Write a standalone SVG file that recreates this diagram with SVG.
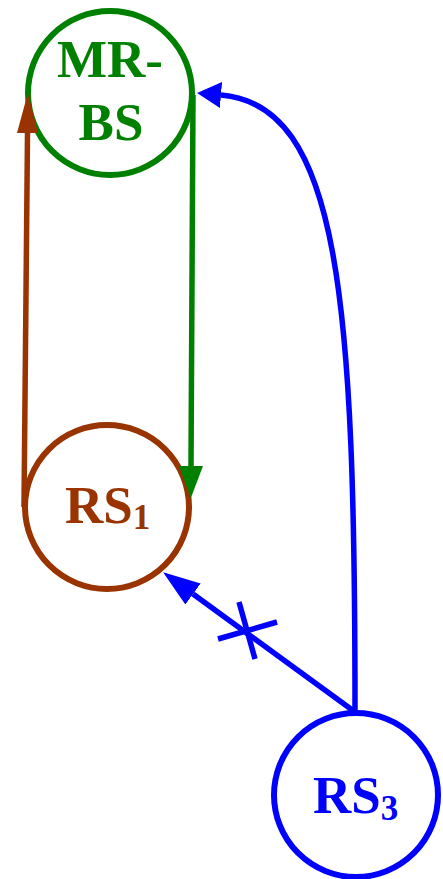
<svg xmlns="http://www.w3.org/2000/svg" width="443" height="879" viewBox="0 0 443 879">
<style>
.node{fill:#fff;stroke-width:6}
.lbl{font-family:"Liberation Serif","Times New Roman",serif;font-weight:bold;font-size:53px}
.edge{fill:none;stroke-width:5.5}
.sub{font-size:35px}
</style>
<defs>
<marker id="ahBrown" markerUnits="userSpaceOnUse" markerWidth="40" markerHeight="21" refX="0" refY="10.5" orient="auto"><path d="M0,0 L40,10.5 L0,21 z" fill="#993300"/></marker>
<marker id="ahGreen" markerUnits="userSpaceOnUse" markerWidth="32" markerHeight="24" refX="0" refY="12" orient="auto"><path d="M0,0 L32,12 L0,24 z" fill="#008000"/></marker>
<marker id="ahBlueA" markerUnits="userSpaceOnUse" markerWidth="24" markerHeight="26" refX="0" refY="13" orient="auto"><path d="M0,0 L24,13 L0,26 z" fill="#0000ff"/></marker>
<marker id="ahBlueB" markerUnits="userSpaceOnUse" markerWidth="37" markerHeight="26" refX="0" refY="13" orient="auto"><path d="M0,0 L37,13 L0,26 z" fill="#0000ff"/></marker>
</defs>
<g id="node-mrbs">
<circle class="node" cx="110" cy="93" r="82" stroke="#008000"/>
<text class="lbl" fill="#008000" text-anchor="middle"><tspan x="110" y="77">MR-</tspan><tspan x="111" y="140">BS</tspan></text>
</g>
<g id="node-rs1">
<circle class="node" cx="107" cy="507" r="82" stroke="#993300"/>
<text class="lbl" fill="#993300" x="65" y="523">RS<tspan class="sub" dy="6">1</tspan></text>
</g>
<g id="node-rs3">
<circle class="node" cx="356" cy="795" r="82" stroke="#0000ff"/>
<text class="lbl" fill="#0000ff" x="313" y="813">RS<tspan class="sub" dy="7">3</tspan></text>
</g>
<g id="connectors">
<path class="edge" stroke="#993300" d="M24,507 L27.5,133" marker-end="url(#ahBrown)"/>
<path class="edge" stroke="#008000" d="M193,95 L191,466" marker-end="url(#ahGreen)"/>
<path class="edge" stroke="#0000ff" d="M355,712 C355,300 340,105 221,95" marker-end="url(#ahBlueA)"/>
<path class="edge" stroke="#0000ff" d="M355,712 L193,594" marker-end="url(#ahBlueB)"/>
<path class="edge" stroke="#0000ff" d="M218,639 L277,622 M239,602 L255,659"/>
</g>
</svg>
